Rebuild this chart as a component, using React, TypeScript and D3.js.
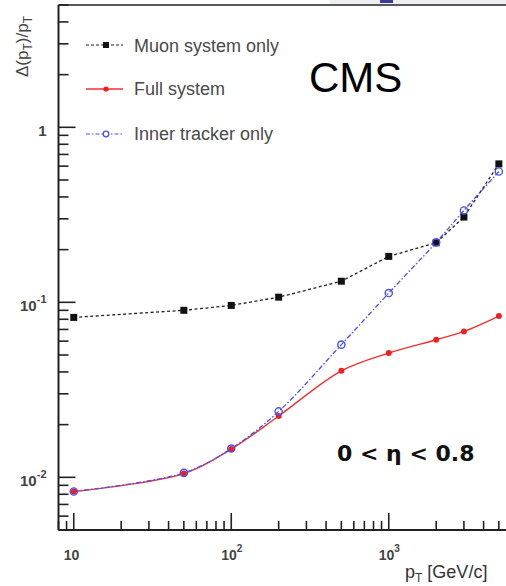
import React from "react";
import * as d3 from "d3";

// pT points (GeV/c) and resolution per system
const ptValues = [10, 50, 100, 200, 500, 1000, 2000, 3000, 5000];
const muonOnly = [0.082, 0.09, 0.096, 0.107, 0.132, 0.183, 0.219, 0.307, 0.618];
const fullSystem = [0.0083, 0.0105, 0.0145, 0.0224, 0.0406, 0.0513, 0.0611, 0.0682, 0.0835];
const innerOnly = [0.0083, 0.0106, 0.0146, 0.0238, 0.0573, 0.113, 0.22, 0.335, 0.559];

const xMajor = [10, 100, 1000];
const xMajorLabels = [["10", ""], ["10", "2"], ["10", "3"]];
const yMajor = [0.01, 0.1, 1];
const yMajorLabels = [["10", "-2"], ["10", "-1"], ["1", ""]];

const W = 506;
const H = 586;
const left = 58.5;
const right = 509;
const top = 5;
const bottom = 530;

const App = () => {
  const x = d3.scaleLog().domain([8, 5800]).range([left, right]);
  const y = d3.scaleLog().domain([0.005, 5]).range([bottom, top]);

  const xMinor: number[] = [];
  [1, 10, 100, 1000].forEach((dec) => {
    for (let k = 2; k <= 9; k++) {
      const v = dec * k;
      if (v >= 8 && v <= 5800 && !xMajor.includes(v)) xMinor.push(v);
    }
  });
  const yMinor: number[] = [];
  [0.001, 0.01, 0.1, 1].forEach((dec) => {
    for (let k = 2; k <= 9; k++) {
      const v = dec * k;
      if (v >= 0.005 && v <= 5) yMinor.push(v);
    }
  });

  const pts = (vals: number[]) => ptValues.map((p, i) => [x(p), y(vals[i])] as [number, number]);
  const linear = d3.line().curve(d3.curveLinear);
  const smooth = d3.line().curve(d3.curveCatmullRom.alpha(0.5));

  const labelFont = "Liberation Sans, Arial, sans-serif";

  return (
    <div style={{ position: "absolute", left: 0, top: 0 }}>
      <svg width={W} height={H} style={{ display: "block", background: "#fff" }}>
        <defs>
          <clipPath id="plot">
            <rect x={left} y={top} width={right - left} height={bottom - top} />
          </clipPath>
        </defs>
        {/* slide remnants at the top edge */}
        <rect x={330} y={0} width={176} height={4} fill="#eceef2" />
        <rect x={380} y={0} width={13} height={3} fill="#3b3b9c" />

        {/* frame */}
        <line x1={left} x2={W} y1={top} y2={top} stroke="#222" strokeWidth={1.6} />
        <line x1={left} x2={left} y1={top} y2={bottom} stroke="#222" strokeWidth={2} />
        <line x1={left} x2={W} y1={bottom} y2={bottom} stroke="#222" strokeWidth={2} />

        {/* y ticks */}
        {yMajor.map((v) => (
          <line key={"ym" + v} x1={left} x2={left + 17} y1={y(v)} y2={y(v)} stroke="#222" strokeWidth={1.6} />
        ))}
        {yMinor.map((v) => (
          <line key={"yn" + v} x1={left} x2={left + 10} y1={y(v)} y2={y(v)} stroke="#222" strokeWidth={1.6} />
        ))}
        {/* x ticks */}
        {xMajor.map((v) => (
          <line key={"xm" + v} x1={x(v)} x2={x(v)} y1={bottom} y2={bottom - 17} stroke="#222" strokeWidth={1.6} />
        ))}
        {xMinor.map((v) => (
          <line key={"xn" + v} x1={x(v)} x2={x(v)} y1={bottom} y2={bottom - 9} stroke="#222" strokeWidth={1.6} />
        ))}

        {/* tick labels */}
        {yMajor.map((v, i) => (
          <text key={"yl" + v} x={left - 12} y={y(v) + 9} textAnchor="end" fontFamily={labelFont}
            fontWeight="bold" fontSize={15} fill="#444">
            {yMajorLabels[i][0]}
            {yMajorLabels[i][1] && (
              <tspan fontSize={11} dy={-8}>{yMajorLabels[i][1]}</tspan>
            )}
          </text>
        ))}
        {xMajor.map((v, i) => (
          <text key={"xl" + v} x={x(v) - 10} y={bottom + 30} fontFamily={labelFont}
            fontWeight="bold" fontSize={14} fill="#444">
            {xMajorLabels[i][0]}
            {xMajorLabels[i][1] && (
              <tspan fontSize={10} dy={-8}>{xMajorLabels[i][1]}</tspan>
            )}
          </text>
        ))}

        {/* axis titles */}
        <text x={405} y={578} fontFamily={labelFont} fontSize={18} fill="#333">
          p<tspan fontSize={12} dy={4}>T</tspan>
          <tspan dy={-4}> [GeV/c]</tspan>
        </text>
        <text transform="translate(28,77) rotate(-90)" fontFamily={labelFont} fontSize={17} fill="#444">
          Δ(p<tspan fontSize={12} dy={4}>T</tspan>
          <tspan dy={-4}>)/p</tspan>
          <tspan fontSize={12} dy={4}>T</tspan>
        </text>

        {/* curves */}
        <g clipPath="url(#plot)">
          <path d={linear(pts(muonOnly)) || ""} fill="none" stroke="#222" strokeWidth={1.3} strokeDasharray="3,2.5" />
          <path d={smooth(pts(fullSystem)) || ""} fill="none" stroke="#f03030" strokeWidth={1.4} />
          <path d={smooth(pts(innerOnly)) || ""} fill="none" stroke="#4a50f0" strokeWidth={1.3}
            strokeDasharray="5,2,1.5,2" />
          {pts(muonOnly).map(([px, py], i) => (
            <rect key={"mu" + i} x={px - 3.5} y={py - 3.5} width={7} height={7} fill="#111" />
          ))}
          {pts(fullSystem).map(([px, py], i) => (
            <circle key={"fu" + i} cx={px} cy={py} r={3} fill="#f02020" />
          ))}
          {pts(innerOnly).map(([px, py], i) => (
            <circle key={"in" + i} cx={px} cy={py} r={3.6} fill="none" stroke="#4a50f0" strokeWidth={1.4} />
          ))}
        </g>

        {/* legend */}
        <g fontFamily={labelFont} fontSize={18} fill="#4a4a4a">
          <line x1={86} x2={123} y1={45} y2={45} stroke="#222" strokeWidth={1.2} strokeDasharray="3,2" />
          <rect x={103} y={42} width={6} height={6} fill="#111" />
          <text x={134} y={52}>Muon system only</text>

          <line x1={86} x2={123} y1={89} y2={89} stroke="#f03030" strokeWidth={1.4} />
          <circle cx={106} cy={89} r={2.6} fill="#f02020" />
          <text x={134} y={95}>Full system</text>

          <line x1={86} x2={123} y1={134} y2={134} stroke="#4a50f0" strokeWidth={1.2} strokeDasharray="4,2,1.5,2" />
          <circle cx={106} cy={134} r={2.8} fill="#fff" stroke="#4a50f0" strokeWidth={1.3} />
          <text x={134} y={140}>Inner tracker only</text>
        </g>

        <text x={309} y={92} fontFamily={labelFont} fontSize={42} fill="#000">CMS</text>
        <text x={337} y={461} fontFamily="DejaVu Sans, sans-serif" fontWeight="bold" fontSize={22} fill="#111">
          0 &lt; η &lt; 0.8
        </text>
      </svg>
    </div>
  );
};

export default App;
